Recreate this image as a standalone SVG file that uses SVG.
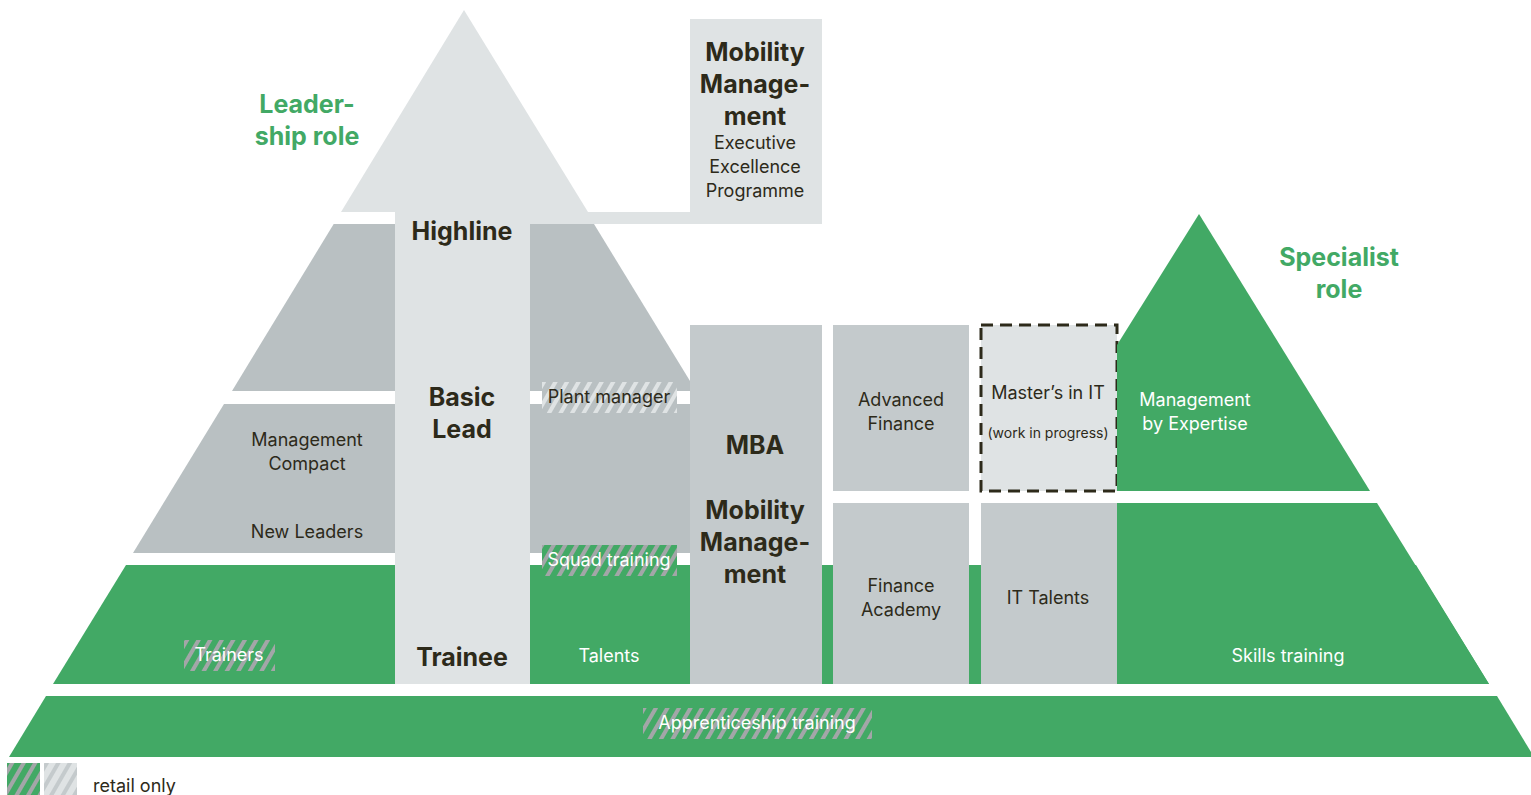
<svg xmlns="http://www.w3.org/2000/svg" width="1531" height="795" viewBox="0 0 1531 795">
<defs>
<style>
.lg{fill:#dfe3e4}
.gt{fill:#b9c0c2}
.bx{fill:#c4cacc}
.gr{fill:#42a965}
text{font-family:Inter,"Liberation Sans",sans-serif;text-anchor:middle}
.h{font-size:25px;font-weight:700;fill:#2d2a1a}
.t{font-size:18px;fill:#2d2a1a}
.w{font-size:18px;fill:#ffffff}
.role{font-size:25px;font-weight:700;fill:#42a965}
.s{font-size:14px;fill:#2d2a1a}
</style>
<pattern id="hg" width="10" height="10" patternUnits="userSpaceOnUse" patternTransform="rotate(30)">
<rect width="10" height="10" fill="#42a965"/><rect width="4" height="10" fill="#a3a6a8"/>
</pattern>
<pattern id="hs" width="10" height="10" patternUnits="userSpaceOnUse" patternTransform="rotate(30)">
<rect width="10" height="10" fill="#b9c0c2"/><rect width="4" height="10" fill="#dfe3e4"/>
</pattern>
<pattern id="hl" width="10" height="10" patternUnits="userSpaceOnUse" patternTransform="rotate(30)">
<rect width="10" height="10" fill="#dfe3e4"/><rect width="4" height="10" fill="#c4cacc"/>
</pattern>
</defs>
<rect width="1531" height="795" fill="#ffffff"/>

<g id="tier-apprenticeship">
<polygon class="gr" points="46,696 1497,696 1534,757 9,757"/>
<rect x="643" y="708" width="229" height="31" fill="url(#hg)"/>
<text class="w" x="757" y="729">Apprenticeship training</text>
</g>

<g id="tier-green">
<polygon class="gr" points="126,565 1416,565 1489,684 53,684"/>
<polygon class="gr" points="1117,503 1377,503 1489,684 1117,684"/>
<rect x="184" y="640" width="91" height="31" fill="url(#hg)"/>
<text class="w" x="229" y="661">Trainers</text>
<text class="w" x="609" y="662">Talents</text>
<text class="w" x="1288" y="662">Skills training</text>
</g>

<g id="tier-gray-2">
<polygon class="gt" points="224,404 690,404 690,553 133,553"/>
<text class="t" x="307" y="446">Management</text>
<text class="t" x="307" y="470">Compact</text>
<text class="t" x="307" y="538">New Leaders</text>
</g>

<g id="tier-gray-1">
<polygon class="gt" points="333.7,224 594,224 690,381 690,391 232,391"/>
</g>

<g id="plant-manager">
<rect x="542" y="382" width="135" height="31" fill="url(#hs)"/>
<text class="t" x="609" y="403">Plant manager</text>
</g>

<g id="squad-training">
<rect x="542" y="545" width="135" height="31" fill="url(#hg)"/>
<text class="w" x="609" y="566">Squad training</text>
</g>

<g id="connectors">
<rect class="lg" x="530" y="212" width="292" height="12"/>
</g>

<g id="leadership-column">
<polygon class="lg" points="464,10 588,212 341,212"/>
<rect class="lg" x="395" y="211" width="135" height="473"/>
<text class="h" x="462" y="240">Highline</text>
<text class="h" x="462" y="406">Basic</text>
<text class="h" x="462" y="438">Lead</text>
<text class="h" x="462" y="666">Trainee</text>
</g>

<g id="leadership-label">
<text class="role" x="307" y="113">Leader-</text>
<text class="role" x="307" y="145">ship role</text>
</g>

<g id="mobility-exec">
<rect class="lg" x="690" y="19" width="132" height="205"/>
<text class="h" x="755" y="61">Mobility</text>
<text class="h" x="755" y="93">Manage-</text>
<text class="h" x="755" y="125">ment</text>
<text class="t" x="755" y="149">Executive</text>
<text class="t" x="755" y="173">Excellence</text>
<text class="t" x="755" y="197">Programme</text>
</g>

<g id="mba">
<rect class="bx" x="690" y="325" width="132" height="359"/>
<text class="h" x="755" y="454">MBA</text>
<text class="h" x="755" y="519">Mobility</text>
<text class="h" x="755" y="551">Manage-</text>
<text class="h" x="755" y="583">ment</text>
</g>

<g id="advanced-finance">
<rect class="bx" x="833" y="325" width="136" height="166"/>
<text class="t" x="901" y="406">Advanced</text>
<text class="t" x="901" y="430">Finance</text>
</g>

<g id="masters-it">
<rect class="lg" x="981" y="325" width="136" height="166" stroke="#2d2a1a" stroke-width="3" stroke-dasharray="12 7"/>
<text class="t" x="1048" y="399">Master’s in IT</text>
<text class="s" x="1048" y="438">(work in progress)</text>
</g>

<g id="finance-academy">
<rect class="bx" x="833" y="503" width="136" height="181"/>
<text class="t" x="901" y="592">Finance</text>
<text class="t" x="901" y="616">Academy</text>
</g>

<g id="it-talents">
<rect class="bx" x="981" y="503" width="136" height="181"/>
<text class="t" x="1048" y="604">IT Talents</text>
</g>

<g id="specialist">
<polygon class="gr" points="1199,214 1370,491 1117,491 1117,345"/>
<text class="w" x="1195" y="406">Management</text>
<text class="w" x="1195" y="430">by Expertise</text>
<text class="role" x="1339" y="266">Specialist</text>
<text class="role" x="1339" y="298">role</text>
</g>

<g id="legend">
<rect x="7" y="763" width="33" height="32" fill="url(#hg)"/>
<rect x="44" y="763" width="33" height="32" fill="url(#hl)"/>
<text class="t" x="93" y="792" style="text-anchor:start">retail only</text>
</g>
</svg>
